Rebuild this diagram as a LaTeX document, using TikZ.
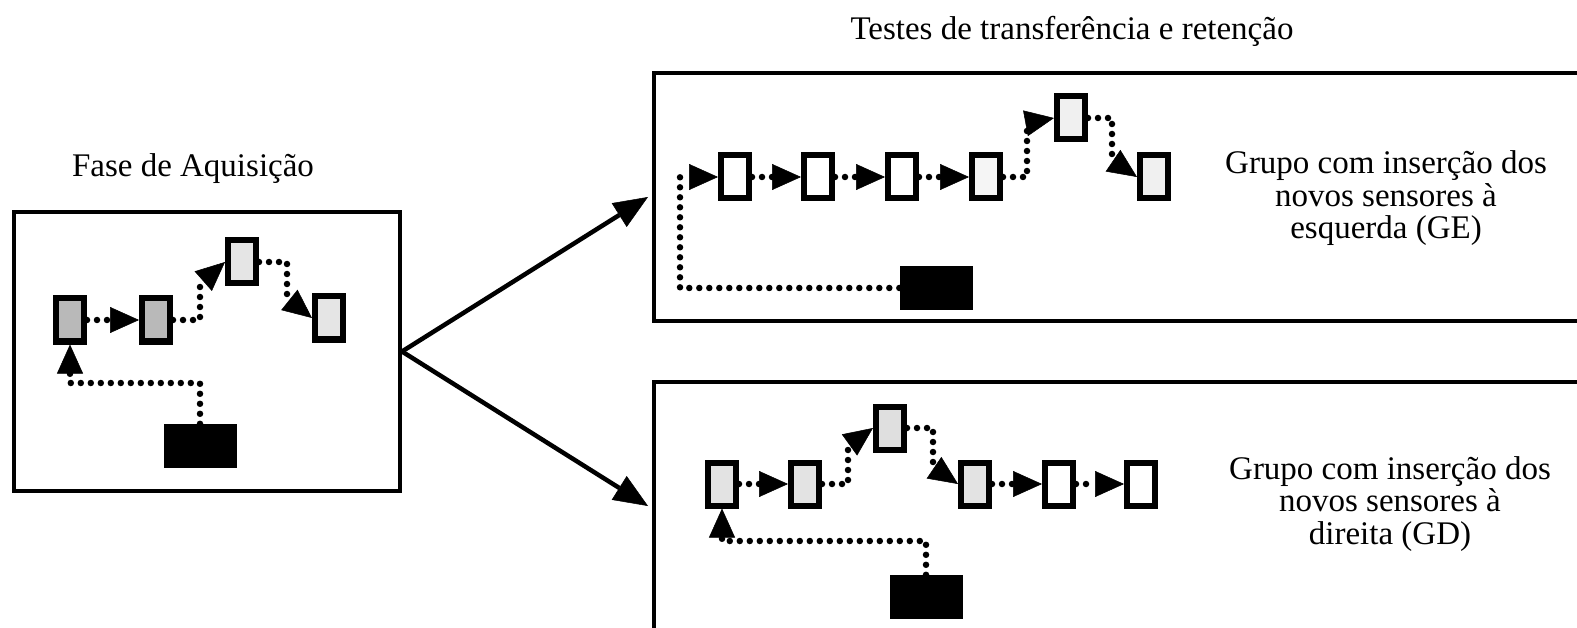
\documentclass[tikz,border=0pt]{standalone}
\usepackage{fontspec}
\setmainfont{Liberation Serif}
\usetikzlibrary{arrows.meta}
\begin{document}
\begin{tikzpicture}[x=1pt,y=-1pt,
  sensor/.style={draw, line width=6pt, minimum width=28pt, minimum height=43pt, inner sep=0pt},
  blk/.style={fill=black, minimum width=73pt, minimum height=44pt, inner sep=0pt},
  frame/.style={draw, line width=4pt, inner sep=0pt},
  dots/.style={line width=6.5pt, line cap=round, line join=round, dash pattern=on 0pt off 10pt,
    -{Triangle[length=29pt,width=26pt,line width=0.5pt]}},
  bigarrow/.style={line width=4.5pt, -{Triangle[length=34pt,width=28pt,line width=0.5pt]}},
  lbl/.style={font=\fontsize{33}{32.5}\selectfont, inner sep=0pt, anchor=base, align=center}
]
\useasboundingbox (0,0) rectangle (1577,628);
\fill[white] (0,0) rectangle (1577,628);

% Acquisition phase
\node[frame, minimum width=386pt, minimum height=279pt] (acq) at (207,351.5) {};
\node[sensor, fill=gray!55] (a1) at (70,320) {};
\node[sensor, fill=gray!55] (a2) at (156,320) {};
\node[sensor, fill=gray!20] (a3) at (242,262) {};
\node[sensor, fill=gray!20] (a4) at (329,318) {};
\node[blk] (a0) at (200,446) {};
\draw[dots] (a1.east) -- (a2.west);
\draw[dots] (a2.east) -- (200,320) -- (200,284) -- (a3.west);
\draw[dots] (a3.east) -- (287,262) -- (287,298) -- (a4.west);
\draw[dots] (a0.north) -- (200,383) -- (70,383) -- (a1.south);

% Top test box (GE)
\node[frame, minimum width=944pt, minimum height=248pt] (tb) at (1126,197) {};
\node[sensor, fill=white] (t1) at (735,177) {};
\node[sensor, fill=white] (t2) at (818,177) {};
\node[sensor, fill=white] (t3) at (902,177) {};
\node[sensor, fill=gray!8] (t4) at (986,177) {};
\node[sensor, fill=gray!12] (t5) at (1071,118) {};
\node[sensor, fill=gray!12] (t6) at (1154,177) {};
\node[blk] (t0) at (936,288) {};
\draw[dots] (t0.west) -- (680,288) -- (680,177) -- (t1.west);
\draw[dots] (t1.east) -- (t2.west);
\draw[dots] (t2.east) -- (t3.west);
\draw[dots] (t3.east) -- (t4.west);
\draw[dots] (t4.east) -- (1027,177) -- (1027,123) -- (t5.west);
\draw[dots] (t5.east) -- (1112,118) -- (1112,160) -- (t6.west);

% Bottom test box (GD)
\node[frame, minimum width=944pt, minimum height=248pt] (bb) at (1126,506) {};
\node[sensor, fill=gray!22] (b1) at (722,484) {};
\node[sensor, fill=gray!22] (b2) at (805,484) {};
\node[sensor, fill=gray!25] (b3) at (890,428) {};
\node[sensor, fill=gray!22] (b4) at (975,484) {};
\node[sensor, fill=white] (b5) at (1059,484) {};
\node[sensor, fill=white] (b6) at (1141,484) {};
\node[blk] (b0) at (926,597) {};
\draw[dots] (b0.north) -- (926,541) -- (722,541) -- (b1.south);
\draw[dots] (b1.east) -- (b2.west);
\draw[dots] (b2.east) -- (848,484) -- (848,446) -- (b3.west);
\draw[dots] (b3.east) -- (933,428) -- (933,467) -- (b4.west);
\draw[dots] (b4.east) -- (b5.west);
\draw[dots] (b5.east) -- (b6.west);

% Big arrows
\draw[bigarrow] (acq.east) -- ([xshift=-4pt]tb.west);
\draw[bigarrow] (acq.east) -- ([xshift=-4pt]bb.west);

% Labels (base = baseline of last line)
\node[lbl] (fase) at (193,177) {Fase de Aquisição};
\node[lbl] (testes) at (1072,40) {Testes de transferência e retenção};
\node[lbl] (ge) at (1386,239) {Grupo com inserção dos\\novos sensores à\\esquerda (GE)};
\node[lbl] (gd) at (1390,544) {Grupo com inserção dos\\novos sensores à\\direita (GD)};
\end{tikzpicture}
\end{document}
